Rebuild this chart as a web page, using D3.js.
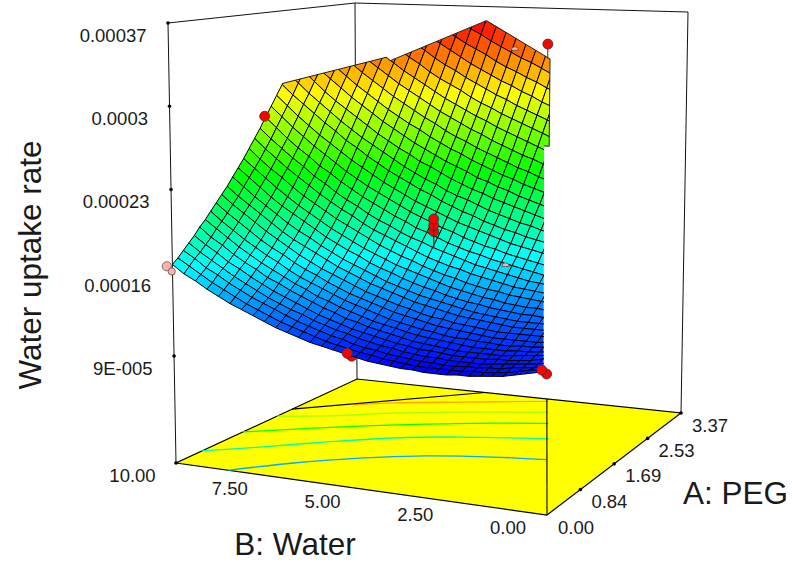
<!DOCTYPE html>
<html>
<head>
<meta charset="utf-8">
<script src="https://cdn.jsdelivr.net/npm/d3@7"></script>
<style>
  body { margin: 0; background: #fff; }
  svg { display: block; font-family: "Liberation Sans", Arial, sans-serif; fill: #1a1a1a; }
</style>
</head>
<body>
<svg id="chart" width="794" height="563"></svg>
<script>
// Values. Every z is in units of 1e-6.
const aTicks = [0, 0.84, 1.69, 2.53, 3.37];
const bTicks = [10, 7.5, 5, 2.5, 0];
const zTicks = [90, 160, 230, 300, 370];
const zTickLabels = ["9E-005", "0.00016", "0.00023", "0.0003", "0.00037"];

// Floor contours, one list of A and one of B per level
const contourLevels = [143.5, 186, 228.5, 271, 313.5];
const contourA = [
  [0, 0.495, 0.91, 1.233, 1.449, 1.567],
  [0.485, 0.843, 1.27, 1.645, 1.921, 2.184],
  [1.247, 1.887, 2.191, 2.46, 2.639],
  [1.88, 2.076, 2.413, 2.679, 2.966],
  [2.528, 2.73, 2.986, 3.303]
];
const contourB = [
  [8.6, 7.5, 6.24, 4.78, 3.18, 1.8],
  [10, 8.93, 7.66, 6.3, 4.75, 2.5],
  [10, 7.6, 6.1, 4.5, 3.1],
  [10, 8.85, 7.4, 5.8, 3.55],
  [8.75, 7.88, 6.25, 4.0]
];

// Surface height, one row per A step, one column per B step (33 cells each way)
const zGrid = [
  [112,110,108,106,104,103,102,101,101,100,100,100,101,101,102,103,104,106,108,110,112,114,117,120,123,127,131,135,139,144,149,155,160,167],
  [113,110,109,107,105,104,103,103,102,102,102,102,102,103,104,105,107,108,110,112,114,117,120,123,126,130,134,138,143,148,153,159,165,171],
  [113,111,109,108,107,105,105,104,104,103,103,104,104,105,106,107,109,110,112,115,117,120,123,126,130,134,138,142,147,152,158,163,170,176],
  [114,112,110,109,108,107,106,105,105,105,105,106,106,107,108,110,111,113,115,118,120,123,126,130,133,137,141,146,151,156,162,168,174,181],
  [115,113,112,110,109,108,108,107,107,107,107,108,109,109,111,112,114,116,118,120,123,126,129,133,137,141,145,150,155,161,166,173,179,186],
  [116,114,113,112,111,110,109,109,109,109,109,110,111,112,113,115,117,119,121,124,126,130,133,137,141,145,150,154,160,165,171,178,184,192],
  [117,116,114,113,112,112,111,111,111,111,112,113,114,115,116,118,120,122,124,127,130,133,137,140,145,149,154,159,164,170,176,183,190,197],
  [119,117,116,115,114,114,113,113,114,114,115,115,116,118,119,121,123,125,128,131,134,137,141,145,149,153,158,164,169,175,181,188,195,203],
  [120,119,118,117,116,116,116,116,116,117,118,119,120,121,123,125,127,129,132,135,138,141,145,149,154,158,163,169,174,180,187,194,201,209],
  [122,121,120,119,119,119,119,119,119,120,121,122,123,125,126,128,131,133,136,139,142,146,150,154,158,163,168,174,180,186,193,200,207,215],
  [124,123,123,122,122,122,122,122,123,124,125,126,127,129,131,133,135,138,141,144,147,151,155,159,164,169,174,179,185,192,199,206,213,221],
  [127,126,125,125,125,125,125,125,126,127,128,129,131,133,135,137,139,142,145,148,152,156,160,164,169,174,180,185,191,198,205,212,220,228],
  [129,129,128,128,128,128,129,129,130,131,132,134,135,137,139,142,144,147,150,154,157,161,166,170,175,180,186,192,198,204,211,219,227,235],
  [132,132,132,132,132,132,133,133,134,135,137,138,140,142,144,147,150,153,156,159,163,167,171,176,181,186,192,198,204,211,218,226,234,242],
  [136,135,135,135,136,136,137,138,139,140,142,143,145,147,150,152,155,158,162,165,169,173,178,183,188,193,199,205,211,218,226,233,241,250],
  [139,139,139,140,140,141,142,143,144,145,147,149,151,153,156,158,161,164,168,172,176,180,184,189,195,200,206,212,219,226,233,241,249,258],
  [143,143,144,144,145,146,147,148,149,151,153,155,157,159,162,165,168,171,175,178,182,187,191,196,202,207,213,220,226,234,241,249,257,266],
  [148,148,148,149,150,151,152,153,155,157,159,161,163,166,168,171,174,178,182,185,190,194,199,204,209,215,221,228,234,242,249,257,266,275],
  [152,153,154,154,155,157,158,159,161,163,165,167,170,172,175,178,182,185,189,193,197,202,207,212,217,223,229,236,243,250,258,266,275,284],
  [157,158,159,160,161,163,164,166,168,170,172,174,177,180,183,186,189,193,197,201,205,210,215,220,226,232,238,245,252,259,267,275,284,293],
  [163,164,165,166,167,169,171,173,175,177,179,182,184,187,190,194,197,201,205,210,214,219,224,229,235,241,248,254,262,269,277,285,293,302],
  [169,170,171,173,174,176,178,180,182,184,187,189,192,195,198,202,206,209,213,218,222,227,232,238,244,250,256,263,270,278,286,294,303,312],
  [175,176,178,179,181,183,185,187,190,192,195,198,201,204,207,211,214,218,222,227,232,236,242,247,253,259,266,273,280,287,295,304,313,322],
  [181,183,185,187,189,191,193,195,198,200,203,206,209,213,216,220,223,228,232,236,241,246,251,257,263,269,276,283,290,298,306,314,323,333],
  [188,190,192,194,196,199,201,204,206,209,212,215,218,222,225,229,233,237,242,246,251,256,262,267,273,279,286,293,300,308,316,325,334,343],
  [196,198,200,202,205,207,210,212,215,218,221,224,228,231,235,239,243,247,252,256,261,267,272,278,284,290,297,304,311,319,327,336,345,354],
  [203,206,208,211,213,216,219,222,225,228,231,234,238,241,245,249,253,258,262,267,272,277,283,289,295,301,308,315,322,330,338,347,356,366],
  [211,214,217,219,222,225,228,231,234,238,241,244,248,252,256,260,264,269,273,278,283,288,294,300,306,312,319,326,334,342,350,359,368,377],
  [220,223,226,228,232,235,238,241,244,248,251,255,259,263,267,271,275,280,284,289,295,300,305,311,318,324,331,338,345,353,362,370,379,389],
  [229,232,235,238,241,245,248,251,255,258,262,266,270,274,278,282,287,291,296,301,306,312,317,323,330,336,343,350,358,365,374,382,392,401],
  [238,241,244,248,251,255,258,262,266,269,273,277,281,285,290,294,299,303,308,313,318,324,330,336,342,348,355,362,370,378,386,395,404,413],
  [247,251,254,258,262,266,269,273,277,281,285,289,293,297,302,306,311,315,320,326,331,336,342,348,354,361,368,375,383,390,399,407,416,426],
  [257,261,265,269,273,277,280,284,288,292,297,301,305,309,314,319,323,328,333,338,344,349,355,361,367,374,381,388,395,403,412,420,429,439],
  [267,271,275,280,284,288,292,296,300,305,309,313,318,322,327,331,336,341,346,351,357,362,368,374,380,387,394,401,408,416,425,433,442,452]
];

// Design points [A, B, z, z on the surface]
const redBehind = [[0, 5.25, 106.5], [0, 0.05, 109.7]];
const redPoints = [[3.37, 4.2, 336, 322], [1.72, 10, 276, 276], [1.69, 5.2, 184, 170], [1.69, 5.2, 189.5, 170], [1.69, 5.2, 195, 170], [0, 5.37, 108.5, 108.5], [0, 0.18, 112.3, 112.3]];
const pinkPoints = [[0, 10.15, 165], [0, 10.02, 161]];
const pinkHidden = [[3.37, 5.19, 329], [2.02, 3.58, 152]];

// Edge of the part of the surface that is cut away [A, B, z]
const cutEdge = [[0, 0.127, 89], [2.696, 3.37, 250], [2.696, 3.22, 250], [3.37, 4.13, 322], [3.37, 6.05, 356.5], [2.77, 8.0, 321], [2.747, 8.08, 324.3], [2.04, 10, 303]];
const floorCut = [[2.16, 10], [3.37, 6.05]];
const floorEdge = [[0, 0], [3.37, 4.14]];

const height = 563;
const N = zGrid.length - 1;
const svg = d3.select("#chart");

const uScale = d3.scaleLinear().domain([0, 3.37]).range([0, 1]);
const vScale = d3.scaleLinear().domain([0, 10]).range([0, 1]);
const wScale = d3.scaleLinear().domain([0, 370]).range([0, 1]);
const colour = d3.scaleLinear().domain([101, 164.75, 228.5, 292.25, 356])
  .range(["#0000ff", "#00ffff", "#00ff00", "#ffff00", "#ff0000"]).clamp(true);

// Box corners on the page, floor then top: [A=0 B=0, A=max B=0, A=0 B=max, A=max B=max]
const floorBox = [[547, 515], [681, 413], [176, 463], [357, 379]];
const topBox = [[552, 40], [688, 12], [168, 23], [355, 3]];

function bilinear(box, u, v) {
  return [0, 1].map(k =>
    (1 - u) * (1 - v) * box[0][k] + u * (1 - v) * box[1][k] + (1 - u) * v * box[2][k] + u * v * box[3][k]);
}

function project(a, b, z) {
  const u = uScale(a), v = vScale(b), w = wScale(z);
  const p0 = bilinear(floorBox, u, v), p1 = bilinear(topBox, u, v);
  return [p0[0] + (p1[0] - p0[0]) * w, p0[1] + (p1[1] - p0[1]) * w];
}

const line = d3.line();

// Floor
svg.append("path")
  .attr("d", line([[0, 0], [3.37, 0], [3.37, 10], [0, 10]].map(d => project(d[0], d[1], 0))) + "Z")
  .attr("fill", "#ffff00").attr("stroke", "#000").attr("stroke-width", 1.2);

const contourLine = d3.line().curve(d3.curveCatmullRom);
contourLevels.forEach((lvl, k) => {
  svg.append("path")
    .attr("d", contourLine(contourA[k].map((a, i) => project(a, contourB[k][i], 0))))
    .attr("fill", "none").attr("stroke", colour(lvl)).attr("stroke-width", 1.3);
});

[floorCut, floorEdge].forEach(seg => {
  svg.append("path").attr("d", line(seg.map(d => project(d[0], d[1], 0))))
    .attr("fill", "none").attr("stroke", "#000").attr("stroke-width", 1.1);
});

// Walls
[[[0, 10, 0], [0, 10, 370], [3.37, 10, 370], [3.37, 0, 370], [3.37, 0, 0]], [[3.37, 10, 0], [3.37, 10, 370]]].forEach(w => {
  svg.append("path").attr("d", line(w.map(d => project(d[0], d[1], d[2]))))
    .attr("fill", "none").attr("stroke", "#111").attr("stroke-width", 1);
});

// Points behind the surface, then the mesh
redBehind.forEach(d => {
  const p = project(d[0], d[1], d[2]);
  svg.append("circle").attr("cx", p[0]).attr("cy", p[1]).attr("r", 5)
    .attr("fill", "#ff0000").attr("stroke", "#333").attr("stroke-width", .8);
});

const clipPoints = cutEdge.map(d => project(d[0], d[1], d[2]));
svg.append("clipPath").attr("id", "surface-clip").append("path")
  .attr("d", line([[0, height], ...clipPoints, [0, 153]]) + "Z");

// Far cells first so near ones paint over them
const cells = [];
for (let i = N - 1; i >= 0; i--) for (let j = N - 1; j >= 0; j--) cells.push([i, j]);
const aAt = i => uScale.invert(i / N), bAt = j => vScale.invert(j / N);

svg.append("g").attr("clip-path", "url(#surface-clip)")
  .selectAll("path").data(cells).join("path")
  .attr("d", ([i, j]) => line([[i, j], [i + 1, j], [i + 1, j + 1], [i, j + 1]]
    .map(([p, q]) => project(aAt(p), bAt(q), zGrid[p][q]))) + "Z")
  .attr("fill", ([i, j]) => colour(d3.mean([zGrid[i][j], zGrid[i + 1][j], zGrid[i + 1][j + 1], zGrid[i][j + 1]])))
  .attr("stroke", "#000").attr("stroke-width", 1);

svg.append("path").attr("d", line(clipPoints.slice(1)))
  .attr("fill", "none").attr("stroke", "#222").attr("stroke-width", 1);

// Tick dots
const tickDots = [
  ...zTicks.map(z => project(0, 10, z)),
  project(0, 10, 0),
  ...aTicks.slice(1).map(a => project(a, 0, 0))
];
svg.selectAll("circle.tick").data(tickDots).join("circle").attr("class", "tick")
  .attr("cx", d => d[0]).attr("cy", d => d[1]).attr("r", 1.8).attr("fill", "#000");

// Design points
redPoints.forEach(d => {
  const p = project(d[0], d[1], d[2]);
  if (d[3] !== d[2]) {
    const s = project(d[0], d[1], d[3]);
    svg.append("line").attr("x1", p[0]).attr("y1", p[1]).attr("x2", s[0]).attr("y2", s[1])
      .attr("stroke", "#333").attr("stroke-width", 1);
  }
  svg.append("circle").attr("cx", p[0]).attr("cy", p[1]).attr("r", 5)
    .attr("fill", "#ff0000").attr("stroke", "#333").attr("stroke-width", .8);
});

pinkPoints.forEach((d, i) => {
  const p = project(d[0], d[1], d[2]);
  svg.append("circle").attr("cx", p[0]).attr("cy", p[1]).attr("r", i ? 3.6 : 4.6)
    .attr("fill", "#ffb0b0").attr("stroke", "#444").attr("stroke-width", .7);
});

// These two poke through the surface, only the top half shows
const halfDisc = d3.arc().innerRadius(0).outerRadius(3.6).startAngle(-Math.PI / 2).endAngle(Math.PI / 2);
pinkHidden.forEach(d => {
  const p = project(d[0], d[1], d[2]);
  svg.append("path").attr("transform", `translate(${p[0]},${p[1]})`).attr("d", halfDisc())
    .attr("fill", "#ffb0b0").attr("stroke", "#444").attr("stroke-width", .7);
});

// Tick labels
zTicks.forEach((z, i) => {
  const p = project(0, 10, z);
  svg.append("text").attr("x", p[0] - 21.5).attr("y", p[1] + 19)
    .attr("text-anchor", "end").attr("font-size", 18.5).text(zTickLabels[i]);
});
bTicks.forEach(b => {
  const p = project(0, b, 0);
  svg.append("text").attr("x", p[0] - (b === 10 ? 43.5 : 39)).attr("y", p[1] + 18.6)
    .attr("text-anchor", "middle").attr("font-size", 18.5).text(b.toFixed(2));
});
aTicks.forEach(a => {
  const p = project(a, 0, 0);
  svg.append("text").attr("x", p[0] + 29).attr("y", p[1] + 18.6)
    .attr("text-anchor", "middle").attr("font-size", 18.5).text(a.toFixed(2));
});

// Axis titles
svg.append("text").attr("transform", "translate(41,265) rotate(-90)")
  .attr("text-anchor", "middle").attr("font-size", 31.5).text("Water uptake rate");
svg.append("text").attr("x", 295).attr("y", 555)
  .attr("text-anchor", "middle").attr("font-size", 31.5).text("B: Water");
svg.append("text").attr("x", 735.5).attr("y", 503.5)
  .attr("text-anchor", "middle").attr("font-size", 31.5).text("A: PEG");
</script>
</body>
</html>
